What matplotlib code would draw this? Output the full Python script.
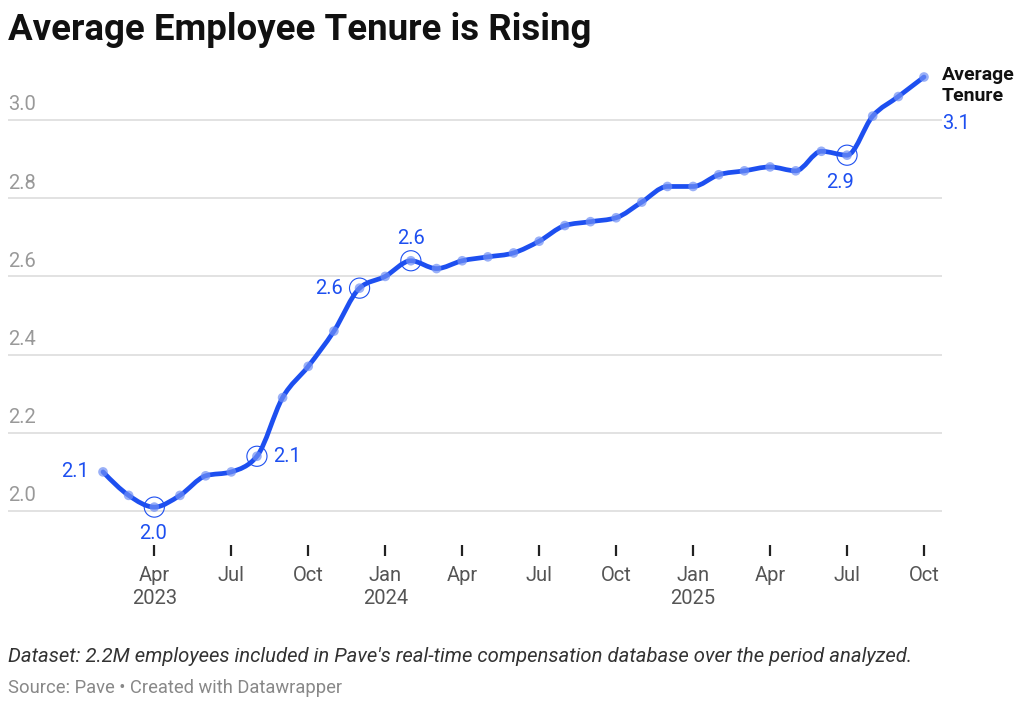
import numpy as np
import matplotlib
matplotlib.use("Agg")
import matplotlib.pyplot as plt
from matplotlib.path import Path
from matplotlib.patches import PathPatch
from matplotlib.transforms import offset_copy

plt.rcParams['font.family'] = ['Roboto', 'DejaVu Sans']

# dados: média de permanência (anos), fev/2023 a out/2025
meses = ['2023-02', '2023-03', '2023-04', '2023-05', '2023-06', '2023-07', '2023-08',
         '2023-09', '2023-10', '2023-11', '2023-12', '2024-01', '2024-02', '2024-03',
         '2024-04', '2024-05', '2024-06', '2024-07', '2024-08', '2024-09', '2024-10',
         '2024-11', '2024-12', '2025-01', '2025-02', '2025-03', '2025-04', '2025-05',
         '2025-06', '2025-07', '2025-08', '2025-09', '2025-10']
tenure = [2.10, 2.04, 2.01, 2.04, 2.09, 2.10, 2.14, 2.29, 2.37, 2.46, 2.57, 2.60,
          2.64, 2.62, 2.64, 2.65, 2.66, 2.69, 2.73, 2.74, 2.75, 2.79, 2.83, 2.83,
          2.86, 2.87, 2.88, 2.87, 2.92, 2.91, 3.01, 3.06, 3.11]

destaques = ['2023-04', '2023-08', '2023-12', '2024-02', '2025-07']
tick_meses = ['2023-04', '2023-07', '2023-10', '2024-01', '2024-04', '2024-07',
              '2024-10', '2025-01', '2025-04', '2025-07', '2025-10']
tick_labels = ['Apr\n2023', 'Jul', 'Oct', 'Jan\n2024', 'Apr', 'Jul', 'Oct',
               'Jan\n2025', 'Apr', 'Jul', 'Oct']
y_ticks = [2.0, 2.2, 2.4, 2.6, 2.8, 3.0]

AZUL = '#1d4ff0'
AZUL_CLARO = '#6f8ff5'
CINZA = '#999999'

x = np.arange(len(meses))
y = np.array(tenure)


def curva_suave(xs, ys):
    # curva monotona (tipo d3.curveMonotoneX) desenhada como caminho Bezier
    n = len(xs)
    h = np.diff(xs).astype(float)
    d = np.diff(ys) / h
    m = np.zeros(n)
    for i in range(1, n - 1):
        if d[i - 1] * d[i] > 0:
            p = (d[i - 1] * h[i] + d[i] * h[i - 1]) / (h[i - 1] + h[i])
            m[i] = np.sign(d[i]) * min(2 * min(abs(d[i - 1]), abs(d[i])), abs(p))
    m[0] = (3 * d[0] - m[1]) / 2
    m[-1] = (3 * d[-1] - m[-2]) / 2
    verts = [(xs[0], ys[0])]
    codes = [Path.MOVETO]
    for i in range(n - 1):
        dx = h[i] / 3
        verts += [(xs[i] + dx, ys[i] + m[i] * dx), (xs[i + 1] - dx, ys[i + 1] - m[i + 1] * dx),
                  (xs[i + 1], ys[i + 1])]
        codes += [Path.CURVE4] * 3
    return Path(verts, codes)


W, H = 1024, 707
fig = plt.figure(figsize=(W / 100, H / 100), dpi=100)
ax_left, ax_right, ax_top, ax_bottom = 8, 942, 60, 545
ax = fig.add_axes([ax_left / W, 1 - ax_bottom / H,
                   (ax_right - ax_left) / W, (ax_bottom - ax_top) / H])

px_mes = (924 - 103) / 32
ax.set_xlim(-(103 - ax_left) / px_mes, 32 + (ax_right - 924) / px_mes)
px_un = 391
ax.set_ylim(2.0 - (ax_bottom - 511) / px_un, 3.0 + (120 - ax_top) / px_un)

for s in ax.spines.values():
    s.set_visible(False)

# grade horizontal e rótulos do eixo y acima das linhas
for v in y_ticks:
    ax.axhline(v, color='#dddddd', lw=1.2, zorder=1)
    ax.text(0, v, f'{v:.1f}', transform=offset_copy(ax.get_yaxis_transform(), fig=fig, y=4, units='points'),
            ha='left', va='bottom', fontsize=14.5, color=CINZA)
ax.set_yticks([])

pos_ticks = [meses.index(m) for m in tick_meses]
ax.set_xticks(pos_ticks)
ax.set_xticklabels(tick_labels, fontsize=14.5, color='#555555', linespacing=1.3)
ax.tick_params(axis='x', length=8, width=1.6, color='#222222', pad=7)

# linha suave e pontos
ax.add_patch(PathPatch(curva_suave(x, y), facecolor='none', edgecolor=AZUL, lw=3.4,
                       joinstyle='round', capstyle='round', zorder=3))
ax.scatter(x, y, s=48, color=AZUL_CLARO, alpha=0.7, edgecolor='none', zorder=4)

idx_dest = [meses.index(m) for m in destaques]
ax.scatter(x[idx_dest], y[idx_dest], s=210, facecolor='none', edgecolor=AZUL, lw=0.8, zorder=5)


# rótulos dos valores
def rotulo(i, dx, dy, ha, va):
    ax.annotate(f'{y[i]:.1f}', (x[i], y[i]), xytext=(dx, dy), textcoords='offset points',
                ha=ha, va=va, fontsize=14.5, color=AZUL, zorder=6)


rotulo(0, -10, 0, 'right', 'center')
rotulo(meses.index('2023-04'), -1, -12, 'center', 'top')
rotulo(meses.index('2023-08'), 12, 0, 'left', 'center')
rotulo(meses.index('2023-12'), -12, 0, 'right', 'center')
rotulo(meses.index('2024-02'), 0, 9, 'center', 'bottom')
rotulo(meses.index('2025-07'), -5, -13, 'center', 'top')

ult = len(x) - 1
ax.annotate('Average\nTenure', (x[ult], y[ult]), xytext=(13, 8), textcoords='offset points',
            ha='left', va='top', fontsize=14, fontweight='bold', color='#111111',
            linespacing=1.25, annotation_clip=False)
ax.annotate(f'{y[ult]:.1f}', (x[ult], y[ult]), xytext=(13, -27), textcoords='offset points',
            ha='left', va='top', fontsize=14.5, color=AZUL, annotation_clip=False)

# títulos e rodapé
fig.text(8 / W, 1 - 12 / H, 'Average Employee Tenure is Rising', ha='left', va='top',
         fontsize=26.4, fontweight='bold', color='#111111')
fig.text(8 / W, 1 - 657 / H, "Dataset: 2.2M employees included in Pave's real-time compensation database over the period analyzed.",
         ha='left', va='center', fontsize=14.6, style='italic', color='#333333')
fig.text(8 / W, 1 - 688 / H, 'Source: Pave \u2022 Created with Datawrapper', ha='left', va='center',
         fontsize=13.2, color='#888888')

fig.savefig('out.png', dpi=100)
